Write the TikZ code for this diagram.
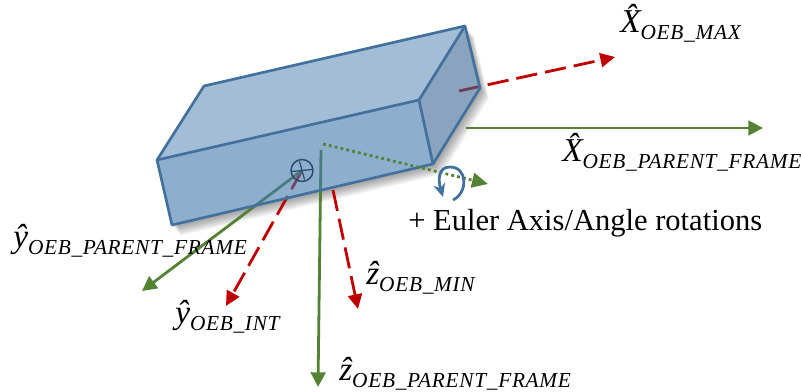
\documentclass[tikz,border=0pt]{standalone}
\usepackage{fontspec}
\setmainfont{Liberation Serif}
\newfontfamily\subf[LetterSpace=3.3,ItalicFont={Liberation Serif Italic},Ligatures=NoCommon]{Liberation Serif}
\usetikzlibrary{arrows.meta,calc}
\definecolor{edgeblue}{HTML}{41719C}
\definecolor{topface}{HTML}{6691BB}
\definecolor{frontface}{HTML}{4379AE}
\definecolor{sideface}{HTML}{3C6795}
\definecolor{axgreen}{HTML}{548235}
\definecolor{axred}{HTML}{C00000}
\definecolor{circ}{HTML}{2B4A68}
\newcommand{\sublab}[1]{\raisebox{-5pt}{\fontsize{16}{16}\selectfont\subf\itshape #1}}
\newcommand{\mainlab}[1]{{\fontsize{25}{25}\selectfont\itshape #1}}
\tikzset{
  x=0.75pt,y=-0.75pt,
  greenax/.style={draw=axgreen,line width=2.1pt,-{Triangle[length=11pt,width=11pt]}},
  redax/.style={draw=axred,line width=2.1pt,dash pattern=on 16pt off 6pt,-{Triangle[length=11pt,width=10.5pt]}},
  dotax/.style={draw=axgreen,line width=2.1pt,dash pattern=on 2.1pt off 2.4pt,-{Triangle[length=12pt,width=11pt]}},
  lab/.style={anchor=base west,inner sep=0pt,text=black},
}
\begin{document}
\begin{tikzpicture}
\useasboundingbox (0,0) rectangle (801,392);
% box corners
\coordinate (A) at (157,160);
\coordinate (B) at (204,86);
\coordinate (C) at (465,26);
\coordinate (D) at (419,100);
\coordinate (E) at (433,164);
\coordinate (F) at (172,225);
\coordinate (G) at (480,88);
% axis end points
\coordinate (o) at (302,170.5);
\coordinate (yp) at (142,291);
\coordinate (yi) at (226,306);
\coordinate (zms) at (333,190);
\coordinate (zm) at (358,309);
\coordinate (zps) at (321,150);
\coordinate (zp) at (318,387);
\coordinate (xms) at (459,91);
\coordinate (xm) at (615,57);
\coordinate (xps) at (466,128);
\coordinate (xp) at (763,128);
\coordinate (ds) at (323,144);
\coordinate (dp) at (488,184);
% soft shadow
\foreach \s in {1,2,...,10}{
  \pgfmathsetmacro{\dx}{1+0.8*\s}
  \pgfmathsetmacro{\dy}{1.5+0.9*\s}
  \fill[black,opacity=0.04] ($(A)+(\dx,\dy)$)--($(B)+(\dx,\dy)$)--($(C)+(\dx,\dy)$)--($(G)+(\dx,\dy)$)--($(E)+(\dx,\dy)$)--($(F)+(\dx,\dy)$)--cycle;
}
\fill[white] (A)--(B)--(C)--(G)--(E)--(F)--cycle;
% axes behind the translucent box
\draw[redax] (o) -- (yi);
\draw[redax] (zms) -- (zm);
\draw[redax] (xms) -- (xm);
\draw[greenax] (o) -- (yp);
\draw[greenax] (zps) -- (zp);
\draw[greenax] (xps) -- (xp);
% box faces
\fill[topface,fill opacity=0.6] (A)--(B)--(C)--(D)--cycle;
\fill[frontface,fill opacity=0.6] (A)--(D)--(E)--(F)--cycle;
\fill[sideface,fill opacity=0.6] (D)--(C)--(G)--(E)--cycle;
\draw[edgeblue,line width=2pt,line join=round] (A)--(B)--(C)--(G)--(E)--(F)--cycle;
\draw[edgeblue,line width=2pt,line join=round] (A)--(D)--(E) (D)--(C);
% dotted axis
\draw[dotax] (ds) -- (dp);
% circled cross
\node[draw=circ,line width=1.1pt,circle,minimum size=16.5pt,inner sep=0pt] (oc) at (o) {};
\draw[circ,line width=0.9pt] ($(o)+(-10,1)$) -- ($(o)+(10,-1)$);
\draw[circ,line width=0.9pt] ($(o)+(-2.5,-9)$) -- ($(o)+(2.5,9)$);
% rotation arrow
\coordinate (ra) at (453,200);
\coordinate (rb) at (443,197);
\draw[edgeblue,line width=2.1pt,-{Stealth[length=10pt,width=9pt]}] (ra) .. controls (468,193) and (468,167) .. (450,167) .. controls (438,167) and (438,180) .. (rb);
% labels
\node[lab] (l1) at (620,33) {\mainlab{\^X}\sublab{OEB\_MAX}};
\node[lab] (l2) at (562,162) {\mainlab{\^X}\sublab{OEB\_PARENT\_FRAME}};
\node[lab] (l3) at (13,248) {\mainlab{\^y}\sublab{OEB\_PARENT\_FRAME}};
\node[lab] (l4) at (175,324) {\mainlab{\^y}\sublab{OEB\_INT}};
\node[lab] (l5) at (366,285) {\mainlab{\^z}\sublab{OEB\_MIN}};
\node[lab] (l6) at (339,381) {\mainlab{\^z}\sublab{OEB\_PARENT\_FRAME}};
\node[lab] (l7) at (408,231) {\fontsize{22.9}{23}\selectfont + Euler Axis/Angle rotations};
\end{tikzpicture}
\end{document}
